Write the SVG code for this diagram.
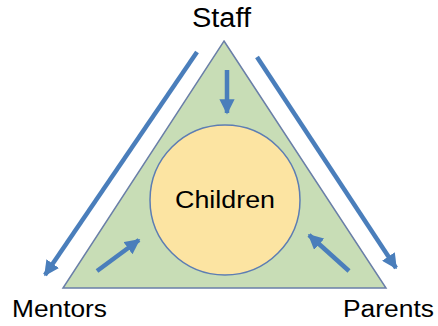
<svg xmlns="http://www.w3.org/2000/svg" width="438" height="326" viewBox="0 0 438 326">
  <style>
    .label { font-family: "Liberation Sans", Arial, sans-serif; font-size: 23px; fill: #000; }
    .flow { stroke: #4a7ebb; stroke-width: 4.5; fill: none; marker-end: url(#head); }
  </style>
  <defs>
    <marker id="head" viewBox="0 0 10 10" refX="9" refY="5" markerWidth="3.4" markerHeight="3.4" orient="auto" markerUnits="strokeWidth">
      <path d="M0,0 L10,5 L0,10 z" fill="#4a7ebb"/>
    </marker>
  </defs>
  <rect width="438" height="326" fill="#fff"/>

  <g id="triangle">
    <polygon points="224,41 386,288 63,288" fill="#c8ddb6" stroke="#6a7fa8" stroke-width="1.5"/>
  </g>

  <g id="children">
    <circle cx="225" cy="200" r="75" fill="#fce4a2" stroke="#5d7db3" stroke-width="1.5"/>
    <text class="label" x="175" y="208" textLength="100" lengthAdjust="spacingAndGlyphs">Children</text>
  </g>

  <g id="staff">
    <text class="label" x="192" y="27" style="font-size:27px" textLength="59" lengthAdjust="spacingAndGlyphs">Staff</text>
  </g>
  <g id="mentors">
    <text class="label" x="12" y="317" textLength="95" lengthAdjust="spacingAndGlyphs">Mentors</text>
  </g>
  <g id="parents">
    <text class="label" x="343" y="317" textLength="91" lengthAdjust="spacingAndGlyphs">Parents</text>
  </g>

  <g id="connectors">
    <line class="flow" x1="197" y1="52" x2="45" y2="275"/>
    <line class="flow" x1="257" y1="57" x2="396" y2="268"/>
    <line class="flow" x1="227" y1="70" x2="227" y2="113"/>
    <line class="flow" x1="97" y1="271" x2="139" y2="240"/>
    <line class="flow" x1="349" y1="271" x2="309" y2="235"/>
  </g>
</svg>
